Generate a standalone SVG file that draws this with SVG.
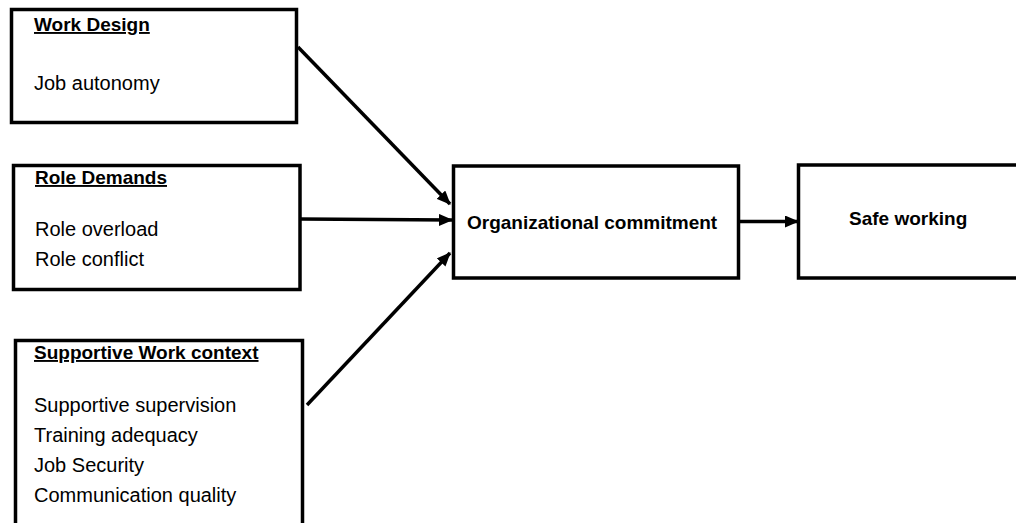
<svg xmlns="http://www.w3.org/2000/svg" width="1016" height="523" viewBox="0 0 1016 523">
<style>
.box{fill:#fff;stroke:#000;stroke-width:3.5}
.h{font-family:"Liberation Sans",Arial,sans-serif;font-weight:bold;font-size:19px;fill:#000}
.u{text-decoration:underline}
.t{font-family:"Liberation Sans",Arial,sans-serif;font-size:20px;fill:#000}
.c{stroke:#000;stroke-width:3.5;fill:none}
</style>
<defs>
<marker id="ah" markerUnits="userSpaceOnUse" markerWidth="14" markerHeight="12" refX="13" refY="6" orient="auto">
<path d="M0,0 L14,6 L0,12 Z" fill="#000"/>
</marker>
</defs>
<rect width="1016" height="523" fill="#fff"/>
<g id="work-design">
<rect class="box" x="11.5" y="9.5" width="285" height="113"/>
<text class="h u" x="34" y="31">Work Design</text>
<text class="t" x="34" y="90">Job autonomy</text>
</g>
<g id="role-demands">
<rect class="box" x="13.5" y="165.5" width="286.5" height="124"/>
<text class="h u" x="35" y="184">Role Demands</text>
<text class="t" x="35" y="236">Role overload</text>
<text class="t" x="35" y="266">Role conflict</text>
</g>
<g id="supportive-work-context">
<rect class="box" x="15.5" y="340.5" width="287" height="200"/>
<text class="h u" x="34" y="359">Supportive Work context</text>
<text class="t" x="34" y="412">Supportive supervision</text>
<text class="t" x="34" y="442">Training adequacy</text>
<text class="t" x="34" y="472">Job Security</text>
<text class="t" x="34" y="502">Communication quality</text>
</g>
<g id="organizational-commitment">
<rect class="box" x="453.5" y="166" width="285" height="112"/>
<text class="h" x="467" y="229">Organizational commitment</text>
</g>
<g id="safe-working">
<rect class="box" x="798.5" y="165" width="240" height="113"/>
<text class="h" x="849" y="225">Safe working</text>
</g>
<g id="connectors">
<line class="c" x1="298" y1="47" x2="450" y2="204" marker-end="url(#ah)"/>
<line class="c" x1="300" y1="219" x2="452" y2="220" marker-end="url(#ah)"/>
<line class="c" x1="307" y1="405" x2="450" y2="253" marker-end="url(#ah)"/>
<line class="c" x1="740" y1="221.5" x2="798" y2="221.5" marker-end="url(#ah)"/>
</g>
</svg>
